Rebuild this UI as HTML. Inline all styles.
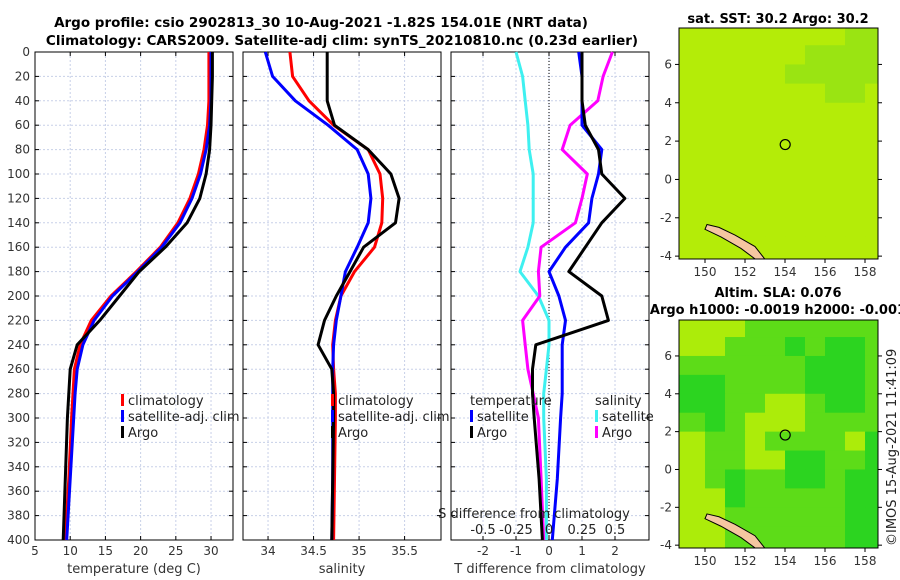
<!DOCTYPE html>
<html><head><meta charset="utf-8">
<style>
body{margin:0;background:#fff;}
svg{display:block;font-family:"DejaVu Sans","Liberation Sans",sans-serif;}
</style></head>
<body>
<svg id="c" width="900" height="580" viewBox="0 0 900 580">
<text x="321" y="27" text-anchor="middle" font-size="13.5" font-weight="bold">Argo profile: csio 2902813_30 10-Aug-2021 -1.82S 154.01E (NRT data)</text>
<text x="342" y="45" text-anchor="middle" font-size="13.5" font-weight="bold">Climatology: CARS2009. Satellite-adj clim: synTS_20210810.nc (0.23d earlier)</text>
<text x="778" y="23" text-anchor="middle" font-size="13" font-weight="bold">sat. SST: 30.2 Argo: 30.2</text>
<text x="778" y="297" text-anchor="middle" font-size="13" font-weight="bold">Altim. SLA: 0.076</text>
<text x="778" y="314" text-anchor="middle" font-size="13" font-weight="bold">Argo h1000: -0.0019 h2000: -0.001</text>
<text transform="translate(896,546) rotate(-90)" font-size="13" fill="#222">©IMOS 15-Aug-2021 11:41:09</text>
</svg>
<script>
const depths=[0,20,40,60,80,100,120,140,160,180,200,220,240,260,280,300,350,400];
const tempClim=[29.7,29.7,29.7,29.5,29.0,28.2,27.0,25.3,22.8,19.4,15.8,13.0,11.4,10.6,10.4,10.2,9.8,9.3];
const tempSat=[30.0,30.0,30.0,29.8,29.3,28.5,27.3,25.6,23.0,19.6,16.0,13.4,11.8,11.0,10.7,10.5,10.0,9.5];
const tempArgo=[30.2,30.2,30.1,30.0,29.8,29.3,28.4,26.6,23.5,19.8,17.0,14.2,11.0,10.0,9.8,9.6,9.3,9.0];
const salClim=[34.24,34.27,34.45,34.72,35.1,35.23,35.26,35.25,35.17,34.95,34.8,34.74,34.71,34.72,34.74,34.74,34.73,34.72];
const salSat=[33.97,34.05,34.3,34.66,34.98,35.1,35.13,35.1,34.98,34.85,34.8,34.75,34.72,34.71,34.71,34.71,34.71,34.70];
const salArgo=[34.65,34.65,34.65,34.73,35.1,35.35,35.44,35.4,35.05,34.9,34.75,34.62,34.55,34.7,34.72,34.72,34.71,34.70];
const tDiffSat=[0.9,1.0,1.0,1.0,1.6,1.5,1.3,1.2,0.5,0.0,0.3,0.5,0.4,0.4,0.4,0.35,0.25,0.1];
const tDiffArgo=[1.0,1.0,1.0,1.1,1.5,1.6,2.3,1.6,1.1,0.6,1.6,1.8,-0.4,-0.5,-0.5,-0.45,-0.3,-0.2];
const sDiffSat=[-0.25,-0.2,-0.18,-0.16,-0.15,-0.12,-0.12,-0.12,-0.16,-0.22,-0.08,0,0,-0.02,-0.04,-0.04,-0.02,-0.02];
const sDiffArgo=[0.48,0.41,0.37,0.16,0.1,0.29,0.25,0.2,-0.06,-0.08,-0.07,-0.2,-0.18,-0.16,-0.12,-0.08,-0.06,-0.04];
const depthTicks=[0,20,40,60,80,100,120,140,160,180,200,220,240,260,280,300,320,340,360,380,400];
const tempTicks=[5,10,15,20,25,30];
const salTicks=[34,34.5,35,35.5];
const tDiffTicks=[-2,-1,0,1,2];
const sDiffTicks=[-0.5,-0.25,0,0.25,0.5];
const lonTicks=[150,152,154,156,158];
const latTicks=[-4,-2,0,2,4,6];
const argoLon=154.01, argoLat=1.82;
const sstGrid=["0000000011","0000001111","0000011111","0000000110","0000000000","0000000000","0000000000","0000000000","0000000000","0000000000","0000000000","0000000000"];
const slaGrid=["0001111111","0011121221","1111112221","2211112221","2211001221","1210001111","0110111102","0110022112","0121122122","0021111122","0011111122","0011111122"];

const NS='http://www.w3.org/2000/svg';
const svg=document.getElementById('c');
function mk(tag,attrs,parent){const e=document.createElementNS(NS,tag);for(const k in attrs)e.setAttribute(k,attrs[k]);(parent||svg).appendChild(e);return e;}
const Y0=52,Y1=540;
const yD=d=>Y0+(d-0)/(400-0)*(Y1-Y0);

function panel(name,x0,x1,vmin,vmax){
  const g=mk('g',{});
  
  
  return {g,x:v=>x0+(v-vmin)/(vmax-vmin)*(x1-x0),x0,x1};
}
function frame(p,xticks,xlabel,showY){
  depthTicks.forEach(d=>{
    const l=mk('line',{x1:p.x0,x2:p.x1,y1:yD(d),y2:yD(d),stroke:'#c8d0e8','stroke-dasharray':'2,2','stroke-width':1},p.g);
    
    
    mk('line',{x1:p.x0,x2:p.x0+4,y1:yD(d),y2:yD(d),stroke:'#000'},p.g);
    mk('line',{x1:p.x1,x2:p.x1-4,y1:yD(d),y2:yD(d),stroke:'#000'},p.g);
    if(showY){const t=mk('text',{x:p.x0-5,y:yD(d)+4,'text-anchor':'end','font-size':12,fill:'#333'},p.g);t.textContent=d;
      
      }
  });
  xticks.forEach(v=>{
    const xx=p.x(v);
    const l=mk('line',{x1:xx,x2:xx,y1:Y0,y2:Y1,stroke:'#c8d0e8','stroke-dasharray':'2,2'},p.g);
    
    
    mk('line',{x1:xx,x2:xx,y1:Y1,y2:Y1-4,stroke:'#000'},p.g);
    mk('line',{x1:xx,x2:xx,y1:Y0,y2:Y0+4,stroke:'#000'},p.g);
    const t=mk('text',{x:xx,y:Y1+15,'text-anchor':'middle','font-size':12,fill:'#333'},p.g);t.textContent=v;
    
    
  });
  const r=mk('rect',{x:p.x0,y:Y0,width:p.x1-p.x0,height:Y1-Y0,fill:'none',stroke:'#000','stroke-width':1},p.g);
  
  
  const t=mk('text',{x:(p.x0+p.x1)/2,y:Y1+33,'text-anchor':'middle','font-size':13,fill:'#333'},p.g);t.textContent=xlabel;
  
  
}
function line(p,xf,vals,color,name){
  const pts=vals.map((v,i)=>xf(v).toFixed(1)+','+yD(depths[i]).toFixed(1)).join(' ');
  const l=mk('polyline',{points:pts,fill:'none',stroke:color,'stroke-width':3,'stroke-linejoin':'round'},p.g);
  
  
}
function legend(p,x,y,items){
  items.forEach((it,i)=>{
    const yy=y+i*16;
    if(it[0]){mk('rect',{x:x,y:yy-9,width:3,height:12,fill:it[0]},p.g);}
    const t=mk('text',{x:x+(it[0]?7:0),y:yy+2,'font-size':13,fill:'#222'},p.g);t.textContent=it[1];
    
    
  });
}

const p1=panel('temperature-panel',35,233,5,33.12);
frame(p1,tempTicks,'temperature (deg C)',true);
line(p1,p1.x,tempClim,'#f00','temp-climatology-line');
line(p1,p1.x,tempSat,'#00f','temp-satellite-line');
line(p1,p1.x,tempArgo,'#000','temp-argo-line');
legend(p1,121,403,[['#f00','climatology'],['#00f','satellite-adj. clim'],['#000','Argo']]);

const p2=panel('salinity-panel',243,441,33.725,35.9);
frame(p2,salTicks,'salinity',false);
line(p2,p2.x,salClim,'#f00','sal-climatology-line');
line(p2,p2.x,salSat,'#00f','sal-satellite-line');
line(p2,p2.x,salArgo,'#000','sal-argo-line');
legend(p2,331,403,[['#f00','climatology'],['#00f','satellite-adj. clim'],['#000','Argo']]);

const p3=panel('difference-panel',451,649,-2.97,3.03);
frame(p3,tDiffTicks,'T difference from climatology',false);
const xS=v=>549+v*132;
const zl=mk('line',{x1:p3.x(0),x2:p3.x(0),y1:Y0,y2:Y1,stroke:'#000','stroke-dasharray':'1,2'},p3.g);


line(p3,xS,sDiffSat,'#3ef0f0','sdiff-satellite-line');
line(p3,xS,sDiffArgo,'#f0f','sdiff-argo-line');
line(p3,p3.x,tDiffSat,'#00f','tdiff-satellite-line');
line(p3,p3.x,tDiffArgo,'#000','tdiff-argo-line');
legend(p3,470,403,[[null,'temperature'],['#00f','satellite'],['#000','Argo']]);
legend(p3,595,403,[[null,'salinity'],['#3ef0f0','satellite'],['#f0f','Argo']]);
const st=mk('text',{x:534,y:518,'text-anchor':'middle','font-size':13,fill:'#222'},p3.g);st.textContent='S difference from climatology';


sDiffTicks.forEach(v=>{const t=mk('text',{x:xS(v),y:534,'text-anchor':'middle','font-size':13,fill:'#222'},p3.g);t.textContent=v;
  
  });

function map(name,top,bot,grid,cols){
  const g=mk('g',{});
  
  
  const x0=679,x1=878;
  const lonX=v=>x0+(v-148.7)/(158.65-148.7)*(x1-x0);
  const latY=v=>top+(7.9-v)/(7.9-(-4.15))*(bot-top);
  const cid=name+'-clip';
  const cp=mk('clipPath',{id:cid},g);mk('rect',{x:x0,y:top,width:x1-x0,height:bot-top},cp);
  const inner=mk('g',{'clip-path':'url(#'+cid+')'},g);
  mk('rect',{x:x0,y:top,width:x1-x0,height:bot-top,fill:cols[0]},inner);
  grid.forEach((row,r)=>{
    for(let c=0;c<row.length;c++){
      const lv=+row[c];
      const lonA=(c===0?148.6:149+c), lonB=(c===row.length-1?158.8:150+c);
      const latA=(r===0?8.1:8-r), latB=(r===grid.length-1?-4.3:7-r);
      mk('rect',{x:lonX(lonA),y:latY(latA),width:lonX(lonB)-lonX(lonA)+0.5,height:latY(latB)-latY(latA)+0.5,fill:cols[lv]},inner);
    }
  });
  const land=mk('polygon',{points:[[150.1,-2.35],[150.7,-2.5],[151.5,-2.9],[152.5,-3.5],[153.1,-4.3],[152.7,-4.3],[151.8,-3.6],[150.8,-3.0],[150.0,-2.6]].map(p=>lonX(p[0])+','+latY(p[1])).join(' '),fill:'#f5c6a0',stroke:'#000','stroke-width':1},inner);
  
  
  const c=mk('circle',{cx:lonX(argoLon),cy:latY(argoLat),r:5,fill:'none',stroke:'#000','stroke-width':1.2},g);
  
  
  mk('rect',{x:x0,y:top,width:x1-x0,height:bot-top,fill:'none',stroke:'#000'},g);
  lonTicks.forEach(v=>{const xx=lonX(v);mk('line',{x1:xx,x2:xx,y1:bot,y2:bot+4,stroke:'#000'},g);
    const t=mk('text',{x:xx,y:bot+17,'text-anchor':'middle','font-size':12,fill:'#333'},g);t.textContent=v;
    
    });
  latTicks.forEach(v=>{const yy=latY(v);mk('line',{x1:x0-4,x2:x0,y1:yy,y2:yy,stroke:'#000'},g);mk('line',{x1:x1,x2:x1+4,y1:yy,y2:yy,stroke:'#000'},g);
    const t=mk('text',{x:x0-7,y:yy+4,'text-anchor':'end','font-size':12,fill:'#333'},g);t.textContent=v;
    
    });
}
map('sst-map',28,259,sstGrid,['#b4ec08','#9ae412','#80dc1a']);
map('sla-map',320,548,slaGrid,['#acec0a','#5ddc18','#2cd420']);
</script>
</body></html>
